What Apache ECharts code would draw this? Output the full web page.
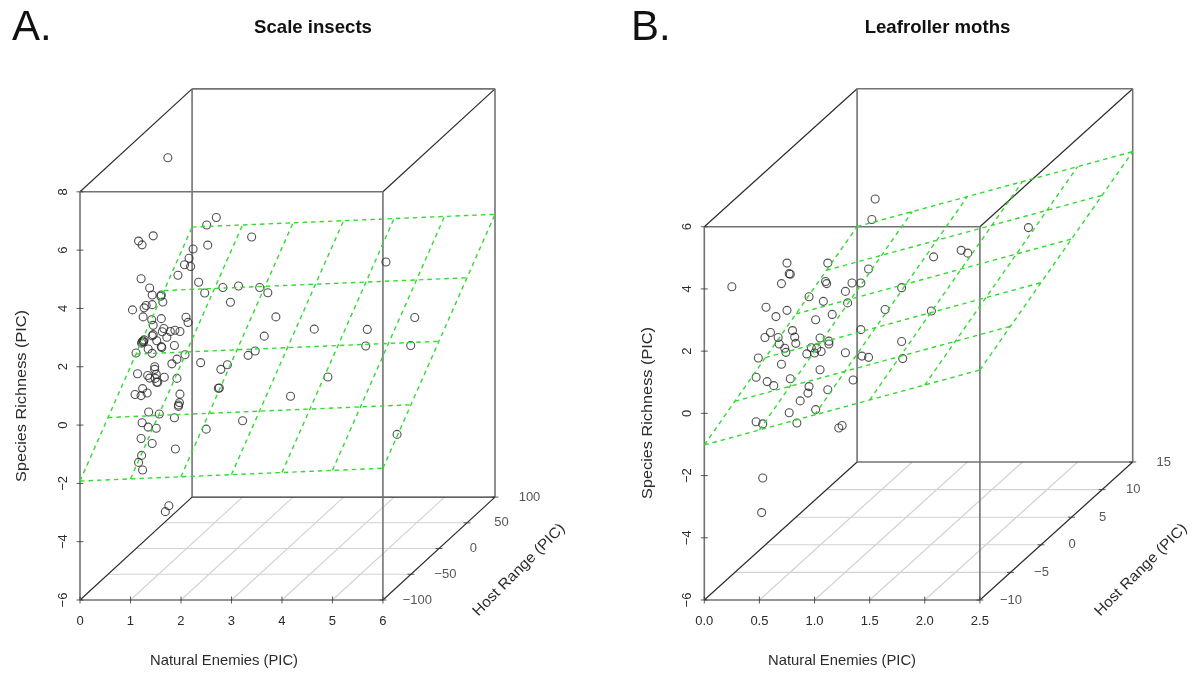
<!DOCTYPE html>
<html><head><meta charset="utf-8">
<style>html,body{margin:0;padding:0;background:#fff}#c{width:1196px;height:673px}</style>
<script src="https://cdn.jsdelivr.net/npm/echarts@6/dist/echarts.min.js"></script>
</head><body><div id="c"></div>
<script>
// Panel A: values as they read on the front face of the 3-D box (Natural Enemies, Species Richness)
const scaleX=[1.74,2.70,2.51,1.45,1.16,1.23,2.53,3.40,2.24,2.16,2.07,2.19,1.94,1.21,2.35,1.38,2.83,3.14,3.56,3.72,2.47,1.61,1.60,1.43,1.64,2.98,1.31,1.43,1.04,1.27,1.25,1.42,1.61,2.10,2.14,1.45,1.66,1.63,1.79,1.88,1.98,1.45,1.43,1.72,1.25,1.23,1.27,1.22,1.26,1.52,1.87,1.62,1.61,1.35,1.43,1.11,2.08,1.92,1.82,2.39,1.48,1.48,1.14,1.51,1.34,1.38,1.67,1.49,1.92,1.52,1.54,1.24,1.09,1.21,1.33,1.98,1.97,1.95,1.95,1.36,1.57,1.87,1.23,1.35,1.51,2.50,1.21,1.43,1.89,1.22,1.16,1.24,1.76,1.69,2.79,2.92,2.74,2.76,3.33,3.47,3.65,3.88,4.17,3.22,6.06,4.64,5.69,6.63,5.66,6.55,4.91,6.28];
const scaleZ=[9.17,7.12,6.86,6.49,6.31,6.18,6.17,6.45,6.04,5.72,5.50,5.44,5.14,5.02,4.90,4.70,4.72,4.77,4.72,4.54,4.53,4.46,4.42,4.46,4.22,4.21,4.10,4.13,3.95,4.02,3.71,3.61,3.65,3.70,3.52,3.42,3.31,3.20,3.21,3.25,3.21,3.10,3.06,3.01,2.88,2.85,2.92,2.81,2.85,2.89,2.73,2.66,2.69,2.61,2.46,2.47,2.41,2.26,2.10,2.14,2.00,1.91,1.76,1.74,1.70,1.61,1.64,1.60,1.60,1.47,1.47,1.25,1.05,1.01,1.10,1.06,0.77,0.64,0.69,0.45,0.38,0.25,0.08,-0.07,-0.11,-0.14,-0.46,-0.63,-0.82,-1.04,-1.28,-1.54,-2.77,-2.97,1.91,2.07,1.26,1.27,2.39,2.54,3.05,3.71,0.99,0.15,5.59,3.29,3.28,3.69,2.71,2.73,1.65,-0.32];
// Panel B
const leafX=[1.55,1.52,0.75,1.12,1.49,0.77,0.78,0.70,1.10,1.11,1.34,1.42,0.25,1.79,1.28,0.95,1.08,1.30,0.56,0.75,1.64,1.16,0.65,1.01,2.06,1.42,0.80,0.60,0.67,0.55,0.82,1.05,1.13,1.13,1.79,0.83,0.68,0.73,0.74,0.97,1.02,1.06,1.00,0.93,1.28,1.43,1.49,1.80,0.49,0.70,1.05,0.47,0.78,1.35,0.57,0.63,0.95,1.12,0.94,0.87,1.01,0.77,0.47,0.53,0.84,1.25,1.22,2.94,2.33,2.39,2.08,0.53,0.52];
const leafZ=[6.89,6.23,4.83,4.83,4.64,4.49,4.47,4.17,4.24,4.17,4.19,4.19,4.07,4.04,3.92,3.75,3.60,3.55,3.41,3.31,3.34,3.18,3.11,3.01,3.29,2.69,2.66,2.60,2.44,2.44,2.45,2.42,2.32,2.23,2.31,2.25,2.23,2.09,1.96,2.11,2.09,1.99,1.94,1.91,1.95,1.84,1.80,1.76,1.78,1.58,1.40,1.16,1.11,1.07,1.02,0.89,0.86,0.76,0.65,0.40,0.12,0.02,-0.27,-0.34,-0.31,-0.39,-0.47,5.97,5.24,5.15,5.03,-2.08,-3.19];
// Axes ticks
const scaleXTicks=[0,1,2,3,4,5,6], scaleHostTicks=[-100,-50,0,50,100], scaleZTicks=[-6,-4,-2,0,2,4,6,8];
const leafXTicks=[0,0.5,1,1.5,2,2.5], leafHostTicks=[-10,-5,0,5,10,15], leafZTicks=[-6,-4,-2,0,2,4,6];
// Fitted planes: z = a + b*x + c*host
const scalePlane=[0.67,0.073,0.0259], leafPlane=[0.017,0.964,0.1033];
const scalePlaneHost=[-100,-50,0,50,100], leafPlaneHost=[-10,-5,0,5,10,15];

const FONT='"Liberation Sans",Arial,sans-serif', TXT='#2b2b2b';
const fmtMinus=v=>String(v).replace('-','\u2212');

function panel(i,cfg){
  const {xT,hT,zT,plane,planeH,px,pz,shiftX,shiftZ,rect,xmaxV,zmaxV,xFmt,hostOffset}=cfg;
  const xMin=xT[0],xMax=xT[xT.length-1],hMin=hT[0],hMax=hT[hT.length-1],zMin=zT[0],zMax=zT[zT.length-1];
  const proj=(x,h,z)=>{const t=(h-hMin)/(hMax-hMin);return [x+t*shiftX,z+t*shiftZ];};
  const seg=list=>{const o=[];list.forEach(s=>{o.push(proj(...s[0]),proj(...s[1]),[NaN,NaN]);});return o;};
  const line=(name,data,color,width,z,dash)=>({type:'line',name,xAxisIndex:i,yAxisIndex:i,data,showSymbol:false,symbol:'none',silent:true,animation:false,clip:false,z,connectNulls:false,lineStyle:{color,width,type:dash||'solid',cap:'butt'}});
  const tick=(data,size)=>({type:'scatter',xAxisIndex:i,yAxisIndex:i,data,symbol:'rect',symbolSize:size,silent:true,animation:false,clip:false,z:5,itemStyle:{color:'#333'}});
  const floor=[];
  xT.slice(1,-1).forEach(x=>floor.push([[x,hMin,zMin],[x,hMax,zMin]]));
  hT.slice(1,-1).forEach(h=>floor.push([[xMin,h,zMin],[xMax,h,zMin]]));
  const dark=[
    [[xMin,hMin,zMin],[xMax,hMin,zMin]],[[xMin,hMax,zMin],[xMax,hMax,zMin]],
    [[xMin,hMin,zMin],[xMin,hMax,zMin]],[[xMax,hMin,zMin],[xMax,hMax,zMin]],
    [[xMin,hMin,zMax],[xMin,hMax,zMax]],[[xMax,hMin,zMax],[xMax,hMax,zMax]]];
  const grey=[
    [[xMin,hMin,zMin],[xMin,hMin,zMax]],[[xMax,hMin,zMin],[xMax,hMin,zMax]],
    [[xMin,hMax,zMin],[xMin,hMax,zMax]],[[xMax,hMax,zMin],[xMax,hMax,zMax]],
    [[xMin,hMin,zMax],[xMax,hMin,zMax]],[[xMin,hMax,zMax],[xMax,hMax,zMax]]];
  const pz3=(x,h)=>plane[0]+plane[1]*x+plane[2]*h;
  const green=[];
  planeH.forEach(h=>green.push([[xMin,h,pz3(xMin,h)],[xMax,h,pz3(xMax,h)]]));
  xT.forEach(x=>green.push([[x,hMin,pz3(x,hMin)],[x,hMax,pz3(x,hMax)]]));
  const series=[
    line('floor',seg(floor),'#d2d2d2',1.1,1),
    line('box',seg(dark),'#2e2e2e',1.2,2),
    line('boxv',seg(grey),'#737373',1.6,2),
    tick(xT.map(x=>proj(x,hMin,zMin)),[1,7]),
    tick(zT.map(z=>proj(xMin,hMin,z)),[7,1]),
    tick(hT.map(h=>proj(xMax,h,zMin)),[7,1]),
    {type:'scatter',xAxisIndex:i,yAxisIndex:i,silent:true,animation:false,clip:false,z:6,symbolSize:1,itemStyle:{color:'transparent'},
     data:hT.map(h=>{const p=proj(xMax,h,zMin);return [p[0],p[1],h];}),
     label:{show:true,position:'inside',offset:[hostOffset,0],align:'center',verticalAlign:'middle',fontFamily:FONT,fontSize:13,color:TXT,formatter:p=>fmtMinus(p.value[2])}},
    {type:'scatter',name:'points',xAxisIndex:i,yAxisIndex:i,data:px.map((x,k)=>[x,pz[k]]),symbol:'circle',symbolSize:8,silent:true,animation:false,clip:false,z:7,itemStyle:{color:'rgba(0,0,0,0)',borderColor:'#262626',borderWidth:1.1}},
    line('plane',seg(green),'#30dc30',1.4,8,[4.5,4])
  ];
  return {
    grid:{left:rect[0],top:rect[1],width:rect[2],height:rect[3],containLabel:false},
    xAxis:{type:'value',gridIndex:i,min:xMin,max:xmaxV,axisLine:{show:false},axisTick:{show:false},splitLine:{show:false},
      axisLabel:{customValues:xT,margin:15,fontFamily:FONT,fontSize:13,color:TXT,formatter:xFmt}},
    yAxis:{type:'value',gridIndex:i,min:zMin,max:zmaxV,axisLine:{show:false},axisTick:{show:false},splitLine:{show:false},
      axisLabel:{customValues:zT,rotate:90,margin:10,fontFamily:FONT,fontSize:13,color:TXT,align:'center',verticalAlign:'bottom',formatter:fmtMinus}},
    series
  };
}
const A=panel(0,{xT:scaleXTicks,hT:scaleHostTicks,zT:scaleZTicks,plane:scalePlane,planeH:scalePlaneHost,px:scaleX,pz:scaleZ,shiftX:2.22,shiftZ:3.53,rect:[80,88,415,512],xmaxV:8.22,zmaxV:11.56,xFmt:v=>String(v),hostOffset:34.5});
const B=panel(1,{xT:leafXTicks,hT:leafHostTicks,zT:leafZTicks,plane:leafPlane,planeH:leafPlaneHost,px:leafX,pz:leafZ,shiftX:1.386,shiftZ:4.436,rect:[704.3,87,428.4,513],xmaxV:3.886,zmaxV:10.49,xFmt:v=>v.toFixed(1),hostOffset:31});

const txt=(text,x,y,font,rot,align,sx,fill)=>({type:'text',x,y,rotation:rot||0,scaleX:sx||1,silent:true,style:{text,font,fill:fill||TXT,align:align||'center',verticalAlign:'middle'}});
const axisFont='14.8px '+FONT;
const texts=[
  txt('A.',12,28,'42px '+FONT,0,'left',1,'#111'),
  txt('B.',631,28,'42px '+FONT,0,'left',1,'#111'),
  txt('Scale insects',313,28,'bold 18.6px '+FONT,0,'center',1,'#111'),
  txt('Leafroller moths',937.5,28,'bold 18.6px '+FONT,0,'center',1,'#111'),
  txt('Natural Enemies (PIC)',224,660.5,axisFont),
  txt('Natural Enemies (PIC)',842,660.5,axisFont),
  txt('Species Richness (PIC)',22,396,axisFont,Math.PI/2,'center',1.1),
  txt('Species Richness (PIC)',648,413,axisFont,Math.PI/2,'center',1.1),
  txt('Host Range (PIC)',519,570,axisFont,Math.PI/4,'center',1.06),
  txt('Host Range (PIC)',1141,570,axisFont,Math.PI/4,'center',1.06)
];
const chart=echarts.init(document.getElementById('c'),null,{renderer:'canvas'});
chart.setOption({
  animation:false,backgroundColor:'#fff',
  grid:[A.grid,B.grid],xAxis:[A.xAxis,B.xAxis],yAxis:[A.yAxis,B.yAxis],
  series:A.series.concat(B.series),
  graphic:{elements:texts}
});
</script></body></html>
